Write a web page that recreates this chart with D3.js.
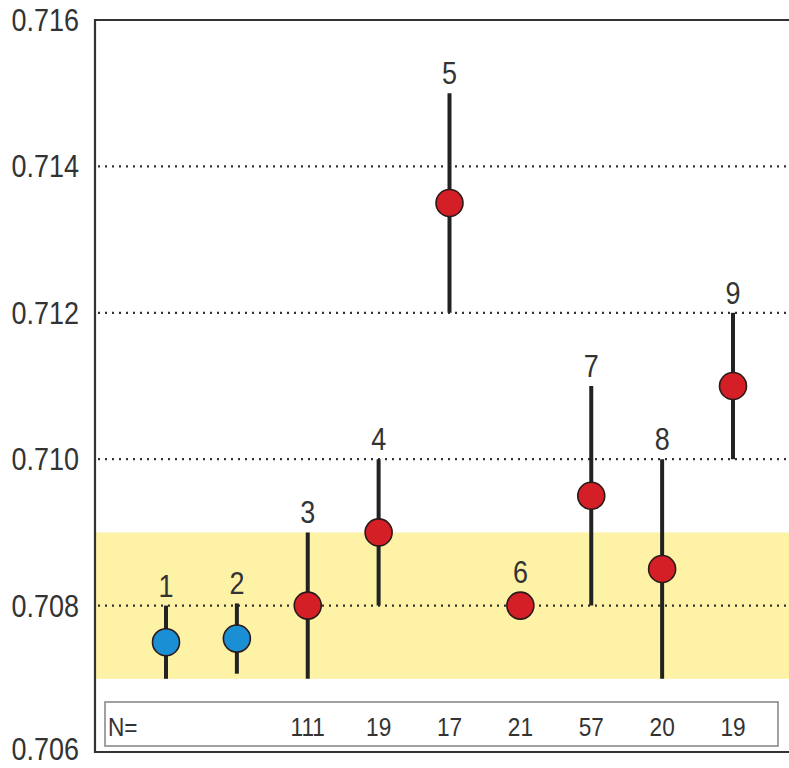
<!DOCTYPE html>
<html>
<head>
<meta charset="utf-8">
<script src="https://cdn.jsdelivr.net/npm/d3@7"></script>
<style>
  html, body { margin: 0; padding: 0; background: #fff; }
  svg { display: block; }
  text { font-family: "Liberation Sans", Arial, sans-serif; fill: #333; }
</style>
</head>
<body>
<svg id="chart" width="789" height="768"></svg>
<script>
// Sample groups, mean 87Sr/86Sr and the min–max range of each group
const groups   = [1, 2, 3, 4, 5, 6, 7, 8, 9];
const means    = [0.7075, 0.70755, 0.708, 0.709, 0.7135, 0.708, 0.7095, 0.7085, 0.711];
const lows     = [0.707, 0.70707, 0.707, 0.708, 0.712, 0.708, 0.708, 0.707, 0.710];
const highs    = [0.708, 0.70803, 0.709, 0.710, 0.715, 0.708, 0.711, 0.710, 0.712];
const kinds    = ["blue", "blue", "red", "red", "red", "red", "red", "red", "red"];
const counts   = ["", "", "111", "19", "17", "21", "57", "20", "19"];
const yTicks   = [0.706, 0.708, 0.710, 0.712, 0.714, 0.716];
const gridVals = [0.708, 0.710, 0.712, 0.714];
const band     = [0.707, 0.709];

const colors = { blue: "#1b8fd4", red: "#d41f26" };

const svg = d3.select("#chart");
const frame = { left: 95, right: 789, top: 20, bottom: 752 };

const y = d3.scaleLinear().domain([0.706, 0.716]).range([frame.bottom, frame.top]);
const x = d3.scalePoint().domain(groups).range([166, 733]);

// seawater band
svg.append("rect")
  .attr("x", frame.left).attr("width", frame.right - frame.left)
  .attr("y", y(band[1])).attr("height", y(band[0]) - y(band[1]))
  .attr("fill", "#fdf2a6");

// dotted gridlines
svg.append("g").selectAll("line").data(gridVals).join("line")
  .attr("x1", frame.left + 3).attr("x2", frame.right)
  .attr("y1", d => y(d)).attr("y2", d => y(d))
  .attr("stroke", "#333").attr("stroke-width", 2.2)
  .attr("stroke-dasharray", "2,5");

// frame: left, top and bottom rules
const fr = svg.append("g").attr("stroke", "#333").attr("stroke-width", 2.2).attr("fill", "none");
fr.append("path").attr("d", `M${frame.right},${frame.top}H${frame.left}V${frame.bottom}H${frame.right}`);

// y tick labels
const fmt = d3.format(".3f");
svg.append("g").selectAll("text").data(yTicks).join("text")
  .attr("transform", d => `translate(79,${y(d) + (d === 0.706 ? 8 : 11)}) scale(0.87,1)`)
  .attr("text-anchor", "end")
  .attr("font-size", 31)
  .text(d => fmt(d));

const data = groups.map((g, i) => ({
  g, mean: means[i], lo: lows[i], hi: highs[i], kind: kinds[i], n: counts[i]
}));

const r = 13.5;

// range whiskers
svg.append("g").selectAll("line").data(data.filter(d => d.hi > d.lo)).join("line")
  .attr("x1", d => x(d.g)).attr("x2", d => x(d.g))
  .attr("y1", d => y(d.hi)).attr("y2", d => y(d.lo))
  .attr("stroke", "#222").attr("stroke-width", 4);

// mean markers
svg.append("g").selectAll("circle").data(data).join("circle")
  .attr("cx", d => x(d.g)).attr("cy", d => y(d.mean)).attr("r", r)
  .attr("fill", d => colors[d.kind])
  .attr("stroke", "#2a1a1a").attr("stroke-width", 1.6);

// group numbers
svg.append("g").selectAll("text").data(data).join("text")
  .attr("transform", d => {
    const top = Math.min(y(d.hi), y(d.mean) - r);
    return `translate(${x(d.g)},${top - 9}) scale(0.87,1)`;
  })
  .attr("text-anchor", "middle")
  .attr("font-size", 31)
  .text(d => d.g);

// sample counts box
svg.append("rect")
  .attr("x", 105).attr("y", 702).attr("width", 673).attr("height", 44)
  .attr("fill", "#fff").attr("stroke", "#8a8a8a").attr("stroke-width", 1.6);

svg.append("text")
  .attr("transform", "translate(108,736) scale(0.87,1)")
  .attr("font-size", 26)
  .text("N=");

svg.append("g").selectAll("text").data(data.filter(d => d.n)).join("text")
  .attr("transform", d => `translate(${x(d.g)},736) scale(0.87,1)`)
  .attr("text-anchor", "middle")
  .attr("font-size", 26)
  .text(d => d.n);
</script>
</body>
</html>
